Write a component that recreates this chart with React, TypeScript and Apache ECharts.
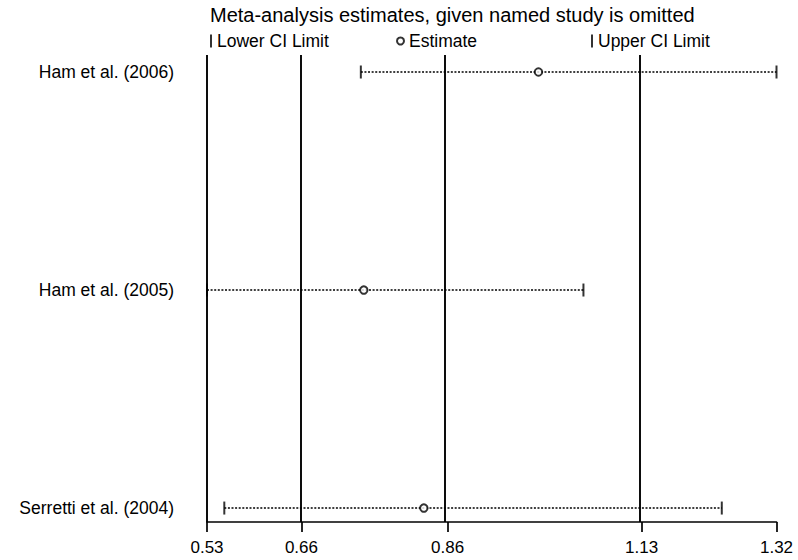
import React, { useEffect, useRef } from "react";
import * as echarts from "echarts";

// Studies, top to bottom
const studies = ["Ham et al. (2006)", "Ham et al. (2005)", "Serretti et al. (2004)"];
const estimates = [0.9898, 0.7475, 0.8308];
const lowerCI = [0.7434, 0.53, 0.554];
const upperCI = [1.32, 1.0522, 1.2441];

// Overall meta-analysis (all studies)
const overallLower = 0.661;
const overallEstimate = 0.8637;
const overallUpper = 1.1329;

const xMin = 0.53;
const xMax = 1.32;
const xTicks = [xMin, overallLower, overallEstimate, overallUpper, xMax];

const titleText = "Meta-analysis estimates, given named study is omitted";
const legendNames = ["Lower CI Limit", "Estimate", "Upper CI Limit"];

const FONT = "'Liberation Sans', Arial, Helvetica, sans-serif";

export default function App() {
  const ref = useRef<HTMLDivElement>(null);

  useEffect(() => {
    if (!ref.current) return;
    const chart = echarts.init(ref.current, undefined, { renderer: "svg" });
    const n = studies.length;
    const yOf = (i: number) => n - i;

    const ciLines = studies.map((s, i) => ({
      type: "line",
      name: "ci-" + s,
      data: [
        [lowerCI[i], yOf(i)],
        [upperCI[i], yOf(i)],
      ],
      showSymbol: false,
      symbol: "none",
      silent: true,
      lineStyle: { color: "#000", width: 1.6, type: [2, 1.6] },
      z: 2,
      ...(i === 0
        ? {
            markLine: {
              silent: true,
              symbol: "none",
              label: { show: false },
              lineStyle: { color: "#000", width: 1.9, type: "solid" },
              data: [xMin, overallLower, overallEstimate, overallUpper].map((v) => ({ xAxis: v })),
            },
          }
        : {}),
    }));

    const legendText = { fontFamily: FONT, fontSize: 17.5, color: "#000" };

    const option: any = {
      animation: false,
      backgroundColor: "#fff",
      title: {
        text: titleText,
        left: 205,
        top: 0,
        textStyle: { fontFamily: FONT, fontSize: 20, fontWeight: "normal", color: "#000" },
      },
      legend: [
        {
          left: 205,
          top: 27,
          itemWidth: 2,
          itemHeight: 13,
          textStyle: legendText,
          data: [{ name: legendNames[0], icon: "rect" }],
        },
        {
          left: 391,
          top: 27,
          itemWidth: 7,
          itemHeight: 7,
          textStyle: legendText,
          itemStyle: { borderWidth: 2, borderColor: "#000", color: "#000" },
          data: [{ name: legendNames[1], icon: "emptyCircle" }],
        },
        {
          left: 586,
          top: 27,
          itemWidth: 2,
          itemHeight: 13,
          textStyle: legendText,
          data: [{ name: legendNames[2], icon: "rect" }],
        },
      ],
      grid: { left: 207, right: 21.5, top: 55, bottom: 38 },
      xAxis: {
        type: "value",
        min: xMin,
        max: xMax,
        axisLine: { show: true, lineStyle: { color: "#000", width: 1.7 } },
        axisTick: { show: true, length: 10, customValues: xTicks, lineStyle: { color: "#000", width: 1.7 } },
        axisLabel: {
          customValues: xTicks,
          formatter: (v: number) => v.toFixed(2),
          margin: 17,
          fontFamily: FONT,
          fontSize: 17,
          color: "#000",
        },
        splitLine: { show: false },
      },
      yAxis: {
        type: "value",
        min: 0.936,
        max: 3.078,
        axisLine: { show: false },
        axisTick: { show: false },
        splitLine: { show: false },
        axisLabel: {
          customValues: studies.map((_, i) => yOf(i)),
          formatter: (v: number) => studies[n - Math.round(v)] ?? "",
          margin: 33,
          fontFamily: FONT,
          fontSize: 17.5,
          color: "#000",
        },
      },
      series: [
        ...ciLines,
        {
          type: "scatter",
          name: legendNames[0],
          symbol: "rect",
          symbolSize: [2, 13],
          itemStyle: { color: "#000" },
          data: lowerCI.map((v, i) => [v, yOf(i)]),
          z: 4,
        },
        {
          type: "scatter",
          name: legendNames[1],
          symbol: "emptyCircle",
          symbolSize: 7.5,
          itemStyle: { color: "#000", borderColor: "#000", borderWidth: 2.3 },
          data: estimates.map((v, i) => [v, yOf(i)]),
          z: 5,
        },
        {
          type: "scatter",
          name: legendNames[2],
          symbol: "rect",
          symbolSize: [2, 13],
          itemStyle: { color: "#000" },
          data: upperCI.map((v, i) => [v, yOf(i)]),
          z: 4,
        },
      ],
    };

    chart.setOption(option);
    return () => chart.dispose();
  }, []);

  return (
    <div
      ref={ref}
      style={{ position: "fixed", left: 0, top: 0, width: 798, height: 560, background: "#fff" }}
    />
  );
}
